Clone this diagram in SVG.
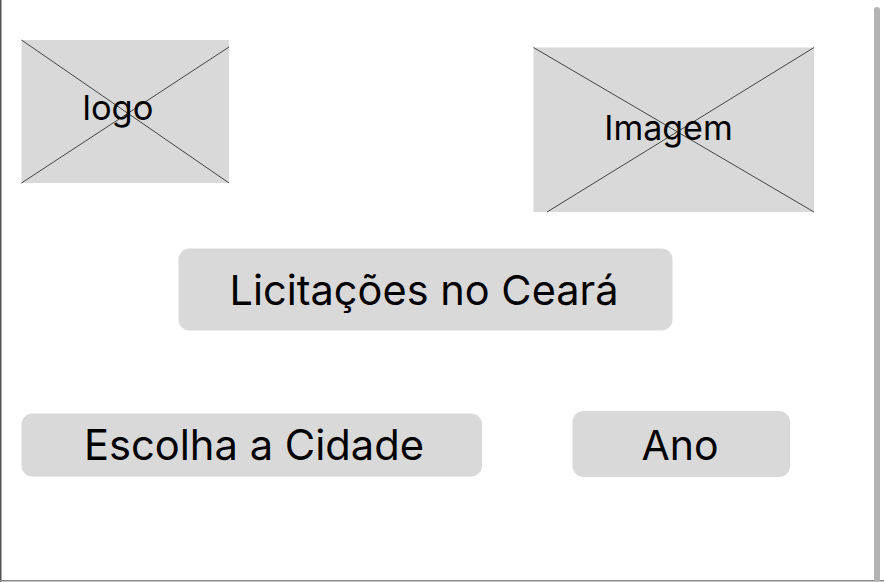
<svg xmlns="http://www.w3.org/2000/svg" width="884" height="582" viewBox="0 0 884 582">
<style>
.ph{fill:#d9d9d9}
.x{stroke:#333;stroke-width:0.9;fill:none}
.btn{fill:#d9d9d9}
.t{font-family:Inter,"Liberation Sans",sans-serif;fill:#000;text-anchor:middle}
</style>
<rect x="0" y="0" width="884" height="582" fill="#fff"/>
<line x1="0.75" y1="0" x2="0.75" y2="582" stroke="#555" stroke-width="1.5"/>
<line x1="0" y1="580.75" x2="884" y2="580.75" stroke="#888" stroke-width="1.5"/>
<rect x="874" y="7" width="6" height="575" rx="3" fill="#b3b3b3"/>
<g id="logo">
<rect class="ph" x="21.5" y="40" width="207.5" height="143"/>
<line class="x" x1="21.5" y1="40" x2="229" y2="183"/>
<line class="x" x1="229" y1="47" x2="21.5" y2="183"/>
<text class="t" x="118" y="120" font-size="34.5">logo</text>
</g>
<g id="imagem">
<rect class="ph" x="533.5" y="47.5" width="280.5" height="164.5"/>
<line class="x" x1="533.5" y1="47.5" x2="814" y2="212"/>
<line class="x" x1="814" y1="47.5" x2="547" y2="212"/>
<text class="t" x="668.5" y="139.5" font-size="34">Imagem</text>
</g>
<g id="titulo">
<rect class="btn" x="178.5" y="248.5" width="494" height="82" rx="11"/>
<text class="t" x="424" y="305" font-size="41.5">Licitações no Ceará</text>
</g>
<g id="cidade">
<rect class="btn" x="21.5" y="413.5" width="460.5" height="63" rx="11"/>
<text class="t" x="254" y="460" font-size="41.7">Escolha a Cidade</text>
</g>
<g id="ano">
<rect class="btn" x="572.5" y="411" width="217.5" height="66" rx="11"/>
<text class="t" x="680" y="460" font-size="41">Ano</text>
</g>
<g id="connectors"/>
</svg>
